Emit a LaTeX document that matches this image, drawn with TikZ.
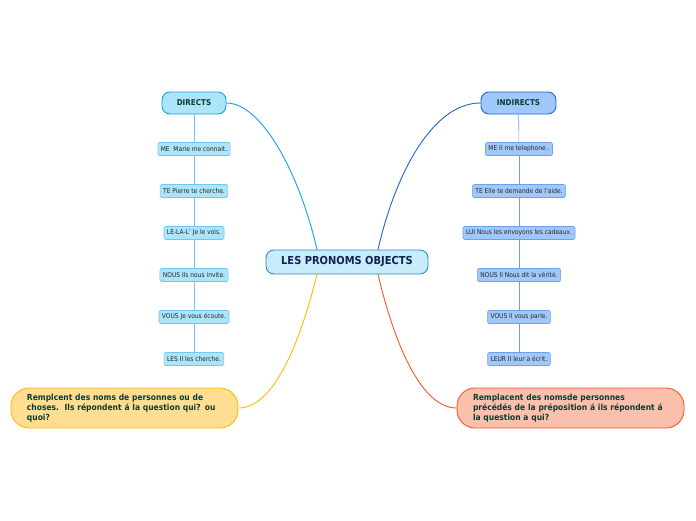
\documentclass[tikz,border=0pt]{standalone}
\usepackage{fontspec}
\setmainfont[FakeStretch=0.9]{DejaVu Sans}
\definecolor{dirfill}{RGB}{172,228,250}
\definecolor{dirdraw}{RGB}{20,160,230}
\definecolor{indfill}{RGB}{160,200,250}
\definecolor{inddraw}{RGB}{30,100,210}
\definecolor{cenfill}{RGB}{200,236,250}
\definecolor{cendraw}{RGB}{40,140,210}
\definecolor{dirleaf}{RGB}{110,200,240}
\definecolor{indleaf}{RGB}{110,160,235}
\definecolor{yelfill}{RGB}{255,222,145}
\definecolor{yeldraw}{RGB}{255,185,10}
\definecolor{redfill}{RGB}{250,192,172}
\definecolor{reddraw}{RGB}{240,90,40}
\definecolor{txtgreen}{RGB}{10,60,50}
\definecolor{txtnavy}{RGB}{15,35,80}
\begin{document}
\begin{tikzpicture}[x=1pt,y=-1pt,line width=.9pt,
 line cap=round,line join=round,
 central/.style={draw=cendraw,fill=cenfill,rounded corners=8pt,
  minimum width=162pt,minimum height=24pt,text=txtnavy,
  font=\fontsize{11}{13}\selectfont\bfseries},
 branch/.style={rounded corners=8pt,minimum height=22pt,text=txtgreen,
  font=\fontsize{8}{10}\selectfont\bfseries},
 leaf/.style={rounded corners=1.5pt,minimum height=13pt,inner xsep=3pt,
  inner ysep=1pt,line width=.6pt,text=black!85,
  font=\fontsize{6.6}{8}\selectfont},
 note/.style={rounded corners=18pt,minimum height=40pt,text width=195pt,
  inner xsep=16pt,align=left,text=txtgreen,
  font=\fontsize{8.4}{10}\selectfont\bfseries}]
\useasboundingbox (0,0) rectangle (696,520);
\node[central] (pronoms) at (347,262) {LES PRONOMS OBJECTS};
\node[branch,draw=dirdraw,fill=dirfill,minimum width=64pt] (directs) at (194,103) {DIRECTS};
\node[branch,draw=inddraw,fill=indfill,minimum width=75pt] (indirects) at (518.5,103) {INDIRECTS};
% exemples
\foreach \i/\txt in {1/{ME\ \ Marie me connait.},2/{TE Pierre te cherche.},
 3/{LE-LA-L' Je le vois.},4/{NOUS Ils nous invite.},
 5/{VOUS Je vous écoute.},6/{LES Il les cherche.}}{
 \node[leaf,draw=dirleaf,fill=dirfill] (d\i) at (194,107+42*\i) {\txt};
}
\foreach \i/\txt in {1/{ME Il me telephone .},2/{TE Elle te demande de l'aide.},
 3/{LUI Nous les envoyons les cadeaux.},4/{NOUS Il Nous dit la vérité.},
 5/{VOUS Il vous parle.},6/{LEUR Il leur a écrit.}}{
 \node[leaf,draw=indleaf,fill=indfill] (n\i) at (519,107+42*\i) {\txt};
}
\node[note,draw=yeldraw,fill=yelfill] (qui) at (124.5,408)
 {Remplcent des noms de personnes ou de\\choses.\ \ Ils répondent á la question qui? ou\\quoi?};
\node[note,draw=reddraw,fill=redfill] (aqui) at (570.5,408)
 {Remplacent des nomsde personnes\\précédés de la préposition á ils répondent á\\la question a qui?};
% chaines
\draw[dirleaf,line width=.6pt] (directs) -- (d1);
\draw[indleaf,line width=.6pt] (indirects) -- (n1);
\foreach \i/\j in {1/2,2/3,3/4,4/5,5/6}{
 \draw[dirleaf,line width=.6pt] (d\i) -- (d\j);
 \draw[indleaf,line width=.6pt] (n\i) -- (n\j);
}
% branches
\draw[dirdraw] ([xshift=-30pt]pronoms.north) .. controls (300,175) and (262,103) .. (directs.east);
\draw[inddraw] ([xshift=31pt]pronoms.north) .. controls (395,175) and (432,103) .. (indirects.west);
\draw[yeldraw] ([xshift=-30pt]pronoms.south) .. controls (298,350) and (272,408) .. (qui.east);
\draw[reddraw] ([xshift=31pt]pronoms.south) .. controls (396,350) and (423,408) .. (aqui.west);
\end{tikzpicture}
\end{document}
